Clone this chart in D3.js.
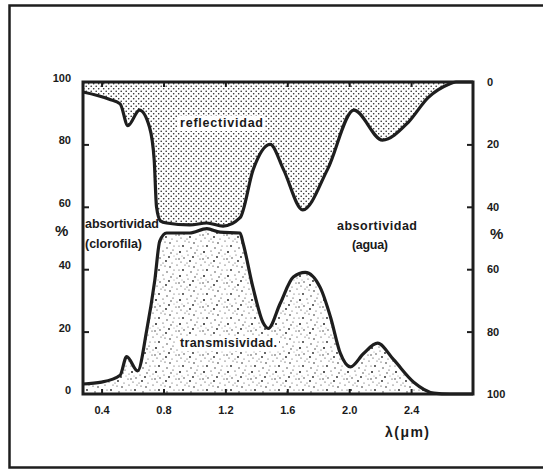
<!DOCTYPE html>
<html>
<head>
<meta charset="utf-8">
<script src="https://cdn.jsdelivr.net/npm/d3@7"></script>
<style>
  body { margin: 0; background: #fff; }
  svg { display: block; }
  text { font-family: "Liberation Sans", Arial, sans-serif; fill: #1a1a1a; }
</style>
</head>
<body>
<script>
// wavelength (µm) and percentage
const lambdaUpper = [0.28, 0.45, 0.52, 0.57, 0.645, 0.71, 0.74, 0.755, 0.78, 0.82, 0.97, 1.08, 1.185, 1.295, 1.38, 1.49, 1.575, 1.70, 1.86, 2.03, 2.215, 2.38, 2.51, 2.64, 2.69, 2.8];
const upperCurve  = [96.8, 94.5, 93, 86, 91, 85.5, 75, 60, 55.5, 54.8, 54.2, 54.8, 53.8, 56.5, 72, 80, 72, 59, 72, 91, 81.4, 87, 95, 99.2, 100, 100];

const lambdaLower = [0.28, 0.40, 0.52, 0.562, 0.633, 0.692, 0.744, 0.776, 0.82, 0.97, 1.08, 1.165, 1.295, 1.314, 1.379, 1.444, 1.477, 1.554, 1.639, 1.716, 1.814, 1.879, 1.943, 2.008, 2.093, 2.183, 2.287, 2.417, 2.547, 2.65, 2.8];
const lowerCurve  = [3.2, 3.8, 6, 12, 7.4, 20.5, 36.5, 49, 51.6, 51.6, 53, 51.9, 51.6, 48.4, 34, 22.8, 21, 29, 37.5, 39, 34, 24.7, 13, 8.7, 13, 16.3, 11, 3.8, 0.3, 0, 0];

const xTicks = [0.4, 0.8, 1.2, 1.6, 2.0, 2.4];
const yTicks = [0, 20, 40, 60, 80, 100];

const svgWidth = 543, svgHeight = 470;
const plot = { left: 83, right: 473, top: 82, bottom: 394 };

const svg = d3.select("body").append("svg")
    .attr("width", svgWidth)
    .attr("height", svgHeight);

const x = d3.scaleLinear().domain([0.28, 2.8]).range([plot.left, plot.right]);
const y = d3.scaleLinear().domain([0, 100]).range([plot.bottom, plot.top]);
const yRight = d3.scaleLinear().domain([0, 100]).range([plot.top, plot.bottom]);

// fill textures
const defs = svg.append("defs");
const dots = defs.append("pattern")
    .attr("id", "dots")
    .attr("patternUnits", "userSpaceOnUse")
    .attr("width", 5).attr("height", 5);
dots.append("circle").attr("cx", 1.2).attr("cy", 1.2).attr("r", 0.8).attr("fill", "#222");
dots.append("circle").attr("cx", 3.7).attr("cy", 3.7).attr("r", 0.8).attr("fill", "#222");

const stippleDots = [[2, 3, 0.8], [9, 1, 0.6], [15, 6, 0.9], [21, 2, 0.6], [5, 10, 0.6],
    [12, 12, 1.0], [19, 11, 0.6], [1, 17, 0.9], [8, 19, 0.6], [16, 18, 0.7],
    [22, 21, 0.9], [4, 23, 0.5], [11, 6, 0.5], [20, 15, 0.5], [13, 22, 0.6],
    [6, 6, 0.5], [17, 1, 0.5], [23, 8, 0.7], [9, 14, 0.5], [3, 13, 0.7],
    [14, 16, 0.4], [19, 23, 0.5], [11, 19, 0.7], [6, 16, 0.4]];
const stipple = defs.append("pattern")
    .attr("id", "stipple")
    .attr("patternUnits", "userSpaceOnUse")
    .attr("width", 24).attr("height", 24);
stipple.selectAll("circle")
    .data(stippleDots)
    .enter().append("circle")
    .attr("cx", d => d[0]).attr("cy", d => d[1]).attr("r", d => d[2])
    .attr("fill", "#222");

// outer frame
svg.append("path")
    .attr("d", "M545,5.5 H9.5 V467.5 H545")
    .attr("fill", "none")
    .attr("stroke", "#1e1e1e")
    .attr("stroke-width", 2.5);

const upperData = lambdaUpper.map((l, i) => [l, upperCurve[i]]);
const lowerData = lambdaLower.map((l, i) => [l, lowerCurve[i]]);

const curve = d3.curveMonotoneX;

svg.append("path")
    .datum(upperData)
    .attr("fill", "url(#dots)")
    .attr("d", d3.area().curve(curve).x(d => x(d[0])).y0(y(100)).y1(d => y(d[1])));

svg.append("path")
    .datum(lowerData)
    .attr("fill", "url(#stipple)")
    .attr("d", d3.area().curve(curve).x(d => x(d[0])).y0(y(0)).y1(d => y(d[1])));

const line = d3.line().curve(curve).x(d => x(d[0])).y(d => y(d[1]));
[upperData, lowerData].forEach(function (data) {
    svg.append("path")
        .datum(data)
        .attr("fill", "none")
        .attr("stroke", "#1e1e1e")
        .attr("stroke-width", 3.2)
        .attr("stroke-linejoin", "round")
        .attr("d", line);
});

// axes: ticks pointing into the plot
const axisStyle = g => {
    g.select(".domain").remove();
    g.selectAll(".tick line").attr("stroke", "#1e1e1e").attr("stroke-width", 2);
    g.selectAll("text")
        .attr("font-size", 11)
        .attr("font-weight", "bold")
        .attr("fill", "#1a1a1a");
};

svg.append("g")
    .attr("transform", "translate(" + plot.left + ",0)")
    .call(d3.axisLeft(y).tickValues(yTicks).tickSize(-6).tickPadding(12))
    .call(axisStyle)
    .call(g => g.selectAll("text").attr("dy", "-0.05em"))
    .call(g => g.selectAll(".tick").filter(d => d === 0 || d === 100).select("line").remove());

svg.append("g")
    .attr("transform", "translate(" + plot.right + ",0)")
    .call(d3.axisRight(yRight).tickValues(yTicks).tickSize(-6).tickPadding(14))
    .call(axisStyle)
    .call(g => g.selectAll(".tick").filter(d => d === 0 || d === 100).select("line").remove());

svg.append("g")
    .attr("transform", "translate(0," + plot.bottom + ")")
    .call(d3.axisBottom(x).tickValues(xTicks).tickFormat(d3.format(".1f")).tickSize(-5).tickPadding(12))
    .call(axisStyle);

svg.append("g")
    .attr("transform", "translate(0," + plot.top + ")")
    .call(d3.axisTop(x).tickValues(xTicks).tickSize(-5).tickFormat(""))
    .call(axisStyle);

// plot box
svg.append("rect")
    .attr("x", plot.left).attr("y", plot.top)
    .attr("width", plot.right - plot.left)
    .attr("height", plot.bottom - plot.top)
    .attr("fill", "none")
    .attr("stroke", "#1e1e1e")
    .attr("stroke-width", 3);

// labels inside the chart
const labels = [
    { t: "reflectividad", x: 180, y: 127, w: 83, bg: true },
    { t: "absortividad", x: 85, y: 228, w: 74 },
    { t: "(clorofila)", x: 85, y: 248, w: 57 },
    { t: "absortividad", x: 337, y: 230, w: 80 },
    { t: "(agua)", x: 352, y: 249, w: 36 },
    { t: "transmisividad.", x: 180, y: 347, w: 97, bg: true }
];
labels.forEach(function (d) {
    if (d.bg) {
        svg.append("rect")
            .attr("x", d.x - 2).attr("y", d.y - 11)
            .attr("width", d.w + 4).attr("height", 15)
            .attr("fill", "#fff");
    }
    svg.append("text")
        .attr("x", d.x).attr("y", d.y)
        .attr("font-size", 12.5)
        .attr("font-weight", 600)
        .attr("textLength", d.w)
        .attr("lengthAdjust", "spacing")
        .text(d.t);
});

svg.append("text")
    .attr("x", 55).attr("y", 236)
    .attr("font-size", 15).attr("font-weight", "bold")
    .text("%");
svg.append("text")
    .attr("x", 490).attr("y", 239)
    .attr("font-size", 15).attr("font-weight", "bold")
    .text("%");

svg.append("text")
    .attr("x", 385).attr("y", 437)
    .attr("font-size", 14).attr("font-weight", "bold")
    .attr("textLength", 44)
    .text("λ(μm)");
</script>
</body>
</html>
